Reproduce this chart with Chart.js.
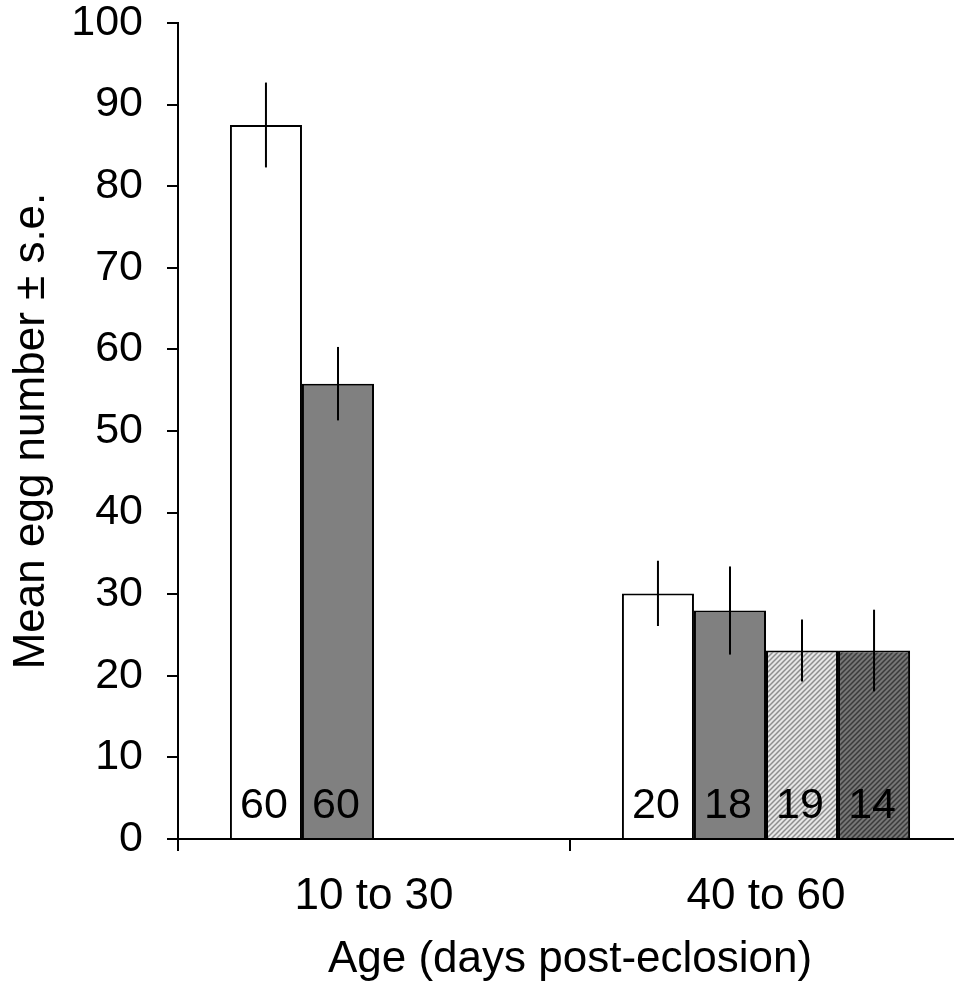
<!DOCTYPE html>
<html>
<head>
<meta charset="utf-8">
<title>Mean egg number by age</title>
<script src="https://cdn.jsdelivr.net/npm/chart.js@4.4.0/dist/chart.umd.min.js"></script>
<style>
html, body { margin: 0; padding: 0; background: #fff; overflow: hidden; }
</style>
</head>
<body>
<canvas id="eggChart" width="962" height="988"></canvas>
<script>
// Datos
const categories = ['10 to 30', '40 to 60'];
const whiteMeans = [87.5, 30.1];
const whiteSe = [5.2, 4.0];
const grayMeans = [55.8, 28.0];
const graySe = [4.5, 5.4];
const lightHatchMeans = [null, 23.1];
const lightHatchSe = [null, 3.8];
const darkHatchMeans = [null, 23.1];
const darkHatchSe = [null, 5.0];
// tamaños de muestra (texto dentro de las barras)
const whiteN = [60, 20];
const grayN = [60, 18];
const lightHatchN = [null, 19];
const darkHatchN = [null, 14];
const yMin = 0, yMax = 100, yStep = 10;

const FONT = '"Liberation Sans", Arial, Helvetica, sans-serif';
const ctx = document.getElementById('eggChart').getContext('2d');

// Rayado diagonal "/"
function hatch(bg, fg) {
    const c = document.createElement('canvas');
    c.width = 5; c.height = 5;
    const g = c.getContext('2d');
    g.fillStyle = bg;
    g.fillRect(0, 0, 5, 5);
    g.strokeStyle = fg;
    g.lineWidth = 1.5;
    g.beginPath();
    g.moveTo(0, 5); g.lineTo(5, 0);
    g.moveTo(-1, 1); g.lineTo(1, -1);
    g.moveTo(4, 6); g.lineTo(6, 4);
    g.stroke();
    return ctx.createPattern(c, 'repeat');
}

// Barras de error y números de muestra
const errorBars = {
    id: 'errorBars',
    afterDatasetsDraw(chart) {
        const c = chart.ctx;
        const y = chart.scales.y;
        chart.data.datasets.forEach((ds, i) => {
            const meta = chart.getDatasetMeta(i);
            meta.data.forEach((bar, j) => {
                const v = ds.data[j];
                if (v == null) return;
                const se = ds.se[j];
                c.save();
                c.strokeStyle = '#000';
                c.lineWidth = 2;
                c.beginPath();
                c.moveTo(bar.x, y.getPixelForValue(v + se));
                c.lineTo(bar.x, y.getPixelForValue(v - se));
                c.stroke();
                c.fillStyle = '#000';
                c.font = '43px ' + FONT;
                c.textAlign = 'center';
                c.textBaseline = 'alphabetic';
                c.fillText(String(ds.n[j]), bar.x - 2, y.getPixelForValue(0) - 21);
                c.restore();
            });
        });
    }
};

const barStyle = { borderColor: '#000', borderWidth: 2, borderSkipped: 'bottom' };

const eggChart = new Chart(ctx, {
    type: 'bar',
    data: {
        labels: categories,
        datasets: [
            Object.assign({ label: 'white', data: whiteMeans, se: whiteSe, n: whiteN, backgroundColor: '#ffffff' }, barStyle),
            Object.assign({ label: 'gray', data: grayMeans, se: graySe, n: grayN, backgroundColor: '#808080' }, barStyle),
            Object.assign({ label: 'light hatched', data: lightHatchMeans, se: lightHatchSe, n: lightHatchN, backgroundColor: hatch('#e6e6e6', '#8e8e8e') }, barStyle),
            Object.assign({ label: 'dark hatched', data: darkHatchMeans, se: darkHatchSe, n: darkHatchN, backgroundColor: hatch('#767676', '#3a3a3a') }, barStyle)
        ]
    },
    options: {
        responsive: false,
        animation: false,
        layout: { padding: 0 },
        datasets: {
            bar: { categoryPercentage: 0.735, barPercentage: 1 }
        },
        plugins: {
            legend: { display: false },
            tooltip: { enabled: false }
        },
        scales: {
            x: {
                grid: {
                    offset: true,
                    drawOnChartArea: false,
                    drawTicks: true,
                    tickLength: 12,
                    color: '#000',
                    lineWidth: 2
                },
                border: { display: true, color: '#000', width: 2 },
                ticks: {
                    color: '#000',
                    padding: 19,
                    font: { family: FONT, size: 44 }
                },
                title: {
                    display: true,
                    text: 'Age (days post-eclosion)',
                    color: '#000',
                    font: { family: FONT, size: 44 },
                    padding: { top: 0, bottom: 2 }
                },
                afterFit(scale) { scale.height = 149; }
            },
            y: {
                min: yMin,
                max: yMax,
                ticks: {
                    stepSize: yStep,
                    color: '#000',
                    padding: 24,
                    font: { family: FONT, size: 43 }
                },
                grid: {
                    drawOnChartArea: false,
                    drawTicks: true,
                    tickLength: 11,
                    color: '#000',
                    lineWidth: 2
                },
                border: { display: true, color: '#000', width: 2 },
                title: {
                    display: true,
                    text: 'Mean egg number ± s.e.',
                    color: '#000',
                    font: { family: FONT, size: 44 },
                    padding: { top: 5, bottom: 0 }
                },
                afterFit(scale) {
                    scale.width = 178;
                    scale.paddingTop = 23;
                    scale.paddingBottom = 0;
                }
            }
        }
    },
    plugins: [errorBars]
});
</script>
</body>
</html>
